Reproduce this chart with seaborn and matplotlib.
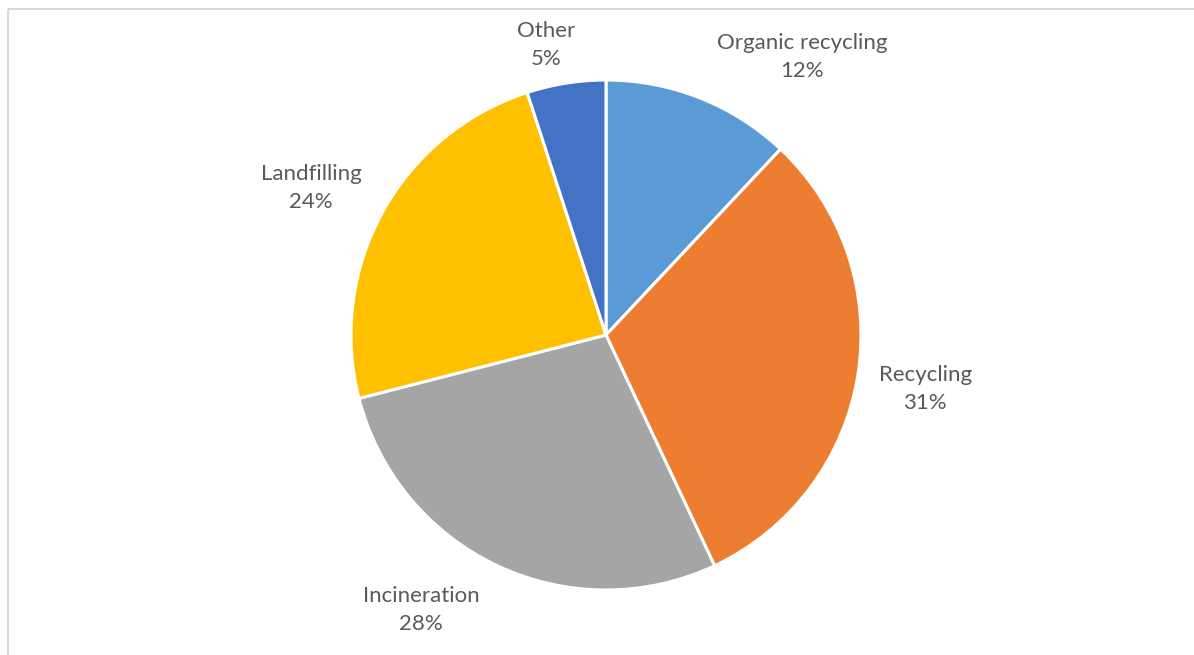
import matplotlib
matplotlib.use("Agg")
import matplotlib.pyplot as plt
import seaborn as sns
import numpy as np

sns.set_theme(style="white")
plt.rcParams["font.family"] = ["Lato", "DejaVu Sans"]

# Waste treatment shares (%)
categories = ["Organic recycling", "Recycling", "Incineration", "Landfilling", "Other"]
shares = [12, 31, 28, 24, 5]
colors = ["#5B9BD5", "#ED7D31", "#A5A5A5", "#FFC000", "#4472C4"]

W, H = 1194, 655
fig = plt.figure(figsize=(W / 100, H / 100), dpi=100)
ax = fig.add_axes([0, 0, 1, 1])

center = (606, H - 335)
radius = 255
wedges, _ = ax.pie(
    shares, colors=colors, startangle=90, counterclock=False,
    center=center, radius=radius,
    wedgeprops=dict(edgecolor="white", linewidth=2.2),
)
ax.set_xlim(0, W)
ax.set_ylim(0, H)
ax.set_aspect("equal")
ax.axis("off")

# Data labels: radial distance and angular nudge (degrees) per slice
label_layout = [(1.334, -13.6), (1.27, -0.6), (1.30, -8.7), (1.293, 2.3), (1.161, 2.7)]
for w, name, val, (dist, nudge) in zip(wedges, categories, shares, label_layout):
    theta = np.deg2rad((w.theta1 + w.theta2) / 2 + nudge)
    x = center[0] + dist * radius * np.cos(theta)
    y = center[1] + dist * radius * np.sin(theta)
    ax.text(x, y, f"{name}\n{val}%", ha="center", va="center",
            fontsize=16, color="#595959", linespacing=1.5)

# Chart area border (left and top edges visible)
ax.plot([8, 8], [0, H - 9], color="#D9D9D9", lw=1.5, solid_capstyle="butt")
ax.plot([8, W], [H - 9, H - 9], color="#D9D9D9", lw=1.5, solid_capstyle="butt")

fig.savefig("out.png", dpi=100, facecolor="white")
